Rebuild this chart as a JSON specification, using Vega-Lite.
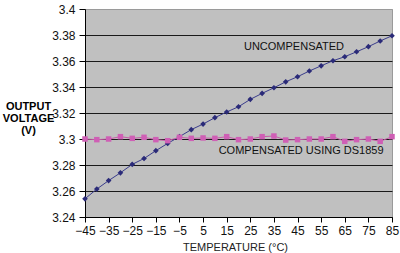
{
  "$schema": "https://vega.github.io/schema/vega-lite/v6.json",
  "width": 307,
  "height": 208,
  "autosize": {"type": "none"},
  "padding": {"left": 85, "top": 9, "right": 8, "bottom": 36},
  "background": "white",
  "config": {
    "view": {"fill": "#c0c0c0", "stroke": "#9a9a9a"},
    "font": "Liberation Sans"
  },
  "datasets": {
    "series": [
      {"t": -45, "v": 3.254, "s": "UNCOMPENSATED"},
      {"t": -40, "v": 3.2615, "s": "UNCOMPENSATED"},
      {"t": -35, "v": 3.268, "s": "UNCOMPENSATED"},
      {"t": -30, "v": 3.274, "s": "UNCOMPENSATED"},
      {"t": -25, "v": 3.2805, "s": "UNCOMPENSATED"},
      {"t": -20, "v": 3.285, "s": "UNCOMPENSATED"},
      {"t": -15, "v": 3.291, "s": "UNCOMPENSATED"},
      {"t": -10, "v": 3.2966, "s": "UNCOMPENSATED"},
      {"t": -5, "v": 3.3018, "s": "UNCOMPENSATED"},
      {"t": 0, "v": 3.3072, "s": "UNCOMPENSATED"},
      {"t": 5, "v": 3.3115, "s": "UNCOMPENSATED"},
      {"t": 10, "v": 3.3164, "s": "UNCOMPENSATED"},
      {"t": 15, "v": 3.3208, "s": "UNCOMPENSATED"},
      {"t": 20, "v": 3.3248, "s": "UNCOMPENSATED"},
      {"t": 25, "v": 3.3305, "s": "UNCOMPENSATED"},
      {"t": 30, "v": 3.3351, "s": "UNCOMPENSATED"},
      {"t": 35, "v": 3.3394, "s": "UNCOMPENSATED"},
      {"t": 40, "v": 3.344, "s": "UNCOMPENSATED"},
      {"t": 45, "v": 3.3479, "s": "UNCOMPENSATED"},
      {"t": 50, "v": 3.3523, "s": "UNCOMPENSATED"},
      {"t": 55, "v": 3.3563, "s": "UNCOMPENSATED"},
      {"t": 60, "v": 3.3602, "s": "UNCOMPENSATED"},
      {"t": 65, "v": 3.3633, "s": "UNCOMPENSATED"},
      {"t": 70, "v": 3.3671, "s": "UNCOMPENSATED"},
      {"t": 75, "v": 3.371, "s": "UNCOMPENSATED"},
      {"t": 80, "v": 3.3754, "s": "UNCOMPENSATED"},
      {"t": 85, "v": 3.3794, "s": "UNCOMPENSATED"}
    ],
    "comp": [
      {"t": -45, "v": 3.3, "s": "COMPENSATED"},
      {"t": -40, "v": 3.2995, "s": "COMPENSATED"},
      {"t": -35, "v": 3.3, "s": "COMPENSATED"},
      {"t": -30, "v": 3.3018, "s": "COMPENSATED"},
      {"t": -25, "v": 3.3005, "s": "COMPENSATED"},
      {"t": -20, "v": 3.3013, "s": "COMPENSATED"},
      {"t": -15, "v": 3.2995, "s": "COMPENSATED"},
      {"t": -10, "v": 3.2987, "s": "COMPENSATED"},
      {"t": -5, "v": 3.3013, "s": "COMPENSATED"},
      {"t": 0, "v": 3.3005, "s": "COMPENSATED"},
      {"t": 5, "v": 3.3008, "s": "COMPENSATED"},
      {"t": 10, "v": 3.3005, "s": "COMPENSATED"},
      {"t": 15, "v": 3.3018, "s": "COMPENSATED"},
      {"t": 20, "v": 3.2995, "s": "COMPENSATED"},
      {"t": 25, "v": 3.3, "s": "COMPENSATED"},
      {"t": 30, "v": 3.3018, "s": "COMPENSATED"},
      {"t": 35, "v": 3.3023, "s": "COMPENSATED"},
      {"t": 40, "v": 3.2992, "s": "COMPENSATED"},
      {"t": 45, "v": 3.2995, "s": "COMPENSATED"},
      {"t": 50, "v": 3.3, "s": "COMPENSATED"},
      {"t": 55, "v": 3.3, "s": "COMPENSATED"},
      {"t": 60, "v": 3.3018, "s": "COMPENSATED"},
      {"t": 65, "v": 3.2982, "s": "COMPENSATED"},
      {"t": 70, "v": 3.2995, "s": "COMPENSATED"},
      {"t": 75, "v": 3.3, "s": "COMPENSATED"},
      {"t": 80, "v": 3.2982, "s": "COMPENSATED"},
      {"t": 85, "v": 3.3018, "s": "COMPENSATED"}
    ],
    "notes": [
      {"t": 43.5, "v": 3.3705, "label": "UNCOMPENSATED"},
      {"t": 46.5, "v": 3.2905, "label": "COMPENSATED USING DS1859"}
    ]
  },
  "encoding": {
    "x": {
      "field": "t", "type": "quantitative",
      "scale": {"domain": [-45, 85], "nice": false, "zero": false},
      "axis": {
        "values": [-45, -35, -25, -15, -5, 5, 15, 25, 35, 45, 55, 65, 75, 85],
        "grid": false,
        "domainColor": "#000", "domainWidth": 1,
        "tickColor": "#000", "tickSize": 5,
        "labelFontSize": 12, "labelColor": "#111", "labelPadding": 3,
        "labelFlush": false,
        "title": "TEMPERATURE (°C)",
        "titleFontSize": 11, "titleFontWeight": "normal", "titleColor": "#222",
        "titlePadding": 5, "titleX": 150
      }
    },
    "y": {
      "field": "v", "type": "quantitative",
      "scale": {"domain": [3.24, 3.4], "nice": false, "zero": false},
      "axis": {
        "values": [3.24, 3.26, 3.28, 3.3, 3.32, 3.34, 3.36, 3.38, 3.4],
        "format": ".2~f",
        "grid": true,
        "gridColor": {"condition": {"test": "datum.value > 3.399", "value": "#9a9a9a"}, "value": "#1a1a1a"},
        "gridOpacity": 1, "gridWidth": 1,
        "domainColor": "#000",
        "tickColor": "#000", "tickSize": 6,
        "labelFontSize": 12, "labelColor": "#111", "labelPadding": 4,
        "title": ["OUTPUT", "VOLTAGE", "(V)"],
        "titleAngle": 0, "titleX": -57, "titleY": 91,
        "titleAlign": "center", "titleBaseline": "top",
        "titleFontSize": 11, "titleFontWeight": "bold", "titleColor": "#000",
        "titleLineHeight": 12
      }
    }
  },
  "layer": [
    {
      "data": {"name": "series"},
      "mark": {"type": "line", "color": "#3a3c8c", "strokeWidth": 1},
      "encoding": {}
    },
    {
      "data": {"name": "series"},
      "mark": {"type": "point", "shape": "diamond", "filled": true, "color": "#2a2a78", "size": 32, "opacity": 1},
      "encoding": {}
    },
    {
      "data": {"name": "comp"},
      "mark": {"type": "line", "color": "#c85aa8", "strokeWidth": 1},
      "encoding": {}
    },
    {
      "data": {"name": "comp"},
      "mark": {"type": "point", "shape": "square", "filled": true, "color": "#cf5fb5", "size": 30, "opacity": 1},
      "encoding": {}
    },
    {
      "data": {"name": "notes"},
      "mark": {"type": "text", "fontSize": 11, "color": "#111", "align": "center", "baseline": "middle"},
      "encoding": {"text": {"field": "label", "type": "nominal"}}
    }
  ]
}
